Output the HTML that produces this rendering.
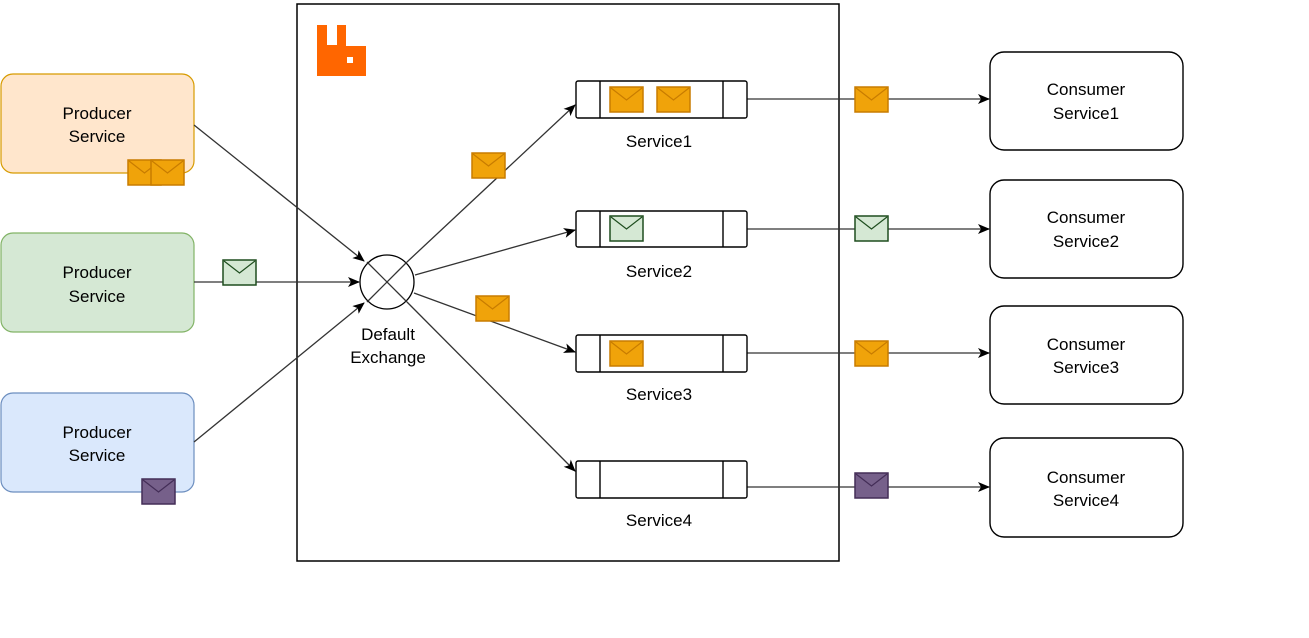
<!DOCTYPE html>
<html><head><meta charset="utf-8"><style>
html,body{margin:0;padding:0;background:#fff;}
svg{display:block;}
text{font-family:"Liberation Sans",sans-serif;font-size:17px;fill:#000;}
</style></head><body>
<svg width="1309" height="638" viewBox="0 0 1309 638" xmlns="http://www.w3.org/2000/svg">
<defs>
<marker id="ar" markerWidth="12" markerHeight="10" refX="11" refY="5" orient="auto" markerUnits="userSpaceOnUse">
<path d="M0,0 L12,5 L0,10 L3,5 Z" fill="#000"/>
</marker>
<g id="env"><rect x="0" y="0" width="33" height="25" stroke-width="1.5"/><path d="M1,1 L16.5,13 L32,1" fill="none" stroke-width="1.2"/></g>
</defs>
<rect x="297" y="4" width="542" height="557" fill="none" stroke="#000" stroke-width="1.5"/>
<path d="M317,25 h10 v20 h10 v-20 h9 v21 h20 v30 h-49 z" fill="#ff6600"/>
<rect x="347" y="57" width="6" height="6" fill="#fff"/>
<rect x="1" y="74" width="193" height="99" rx="12" fill="#ffe6cc" stroke="#d79b00" stroke-width="1.2"/>
<text x="97" y="119" text-anchor="middle">Producer</text><text x="97" y="142" text-anchor="middle">Service</text>
<rect x="1" y="233" width="193" height="99" rx="12" fill="#d5e8d4" stroke="#82b366" stroke-width="1.2"/>
<text x="97" y="278" text-anchor="middle">Producer</text><text x="97" y="302" text-anchor="middle">Service</text>
<rect x="1" y="393" width="193" height="99" rx="12" fill="#dae8fc" stroke="#6c8ebf" stroke-width="1.2"/>
<text x="97" y="438" text-anchor="middle">Producer</text><text x="97" y="461" text-anchor="middle">Service</text>
<g stroke="#333" stroke-width="1.3" fill="none">
<line x1="194" y1="125" x2="364" y2="261" marker-end="url(#ar)"/>
<line x1="194" y1="282" x2="359" y2="282" marker-end="url(#ar)"/>
<line x1="194" y1="442" x2="364" y2="303" marker-end="url(#ar)"/>
<line x1="407" y1="262" x2="575" y2="105" marker-end="url(#ar)"/>
<line x1="415" y1="275" x2="575" y2="230" marker-end="url(#ar)"/>
<line x1="414" y1="293" x2="575" y2="352" marker-end="url(#ar)"/>
<line x1="407" y1="302" x2="575" y2="471" marker-end="url(#ar)"/>
<line x1="747" y1="99" x2="989" y2="99" marker-end="url(#ar)"/>
<line x1="747" y1="229" x2="989" y2="229" marker-end="url(#ar)"/>
<line x1="747" y1="353" x2="989" y2="353" marker-end="url(#ar)"/>
<line x1="747" y1="487" x2="989" y2="487" marker-end="url(#ar)"/>
</g>
<circle cx="387" cy="282" r="27" fill="none" stroke="#000" stroke-width="1.3"/>
<line x1="367" y1="262" x2="407" y2="302" stroke="#333" stroke-width="1.3"/>
<line x1="367" y1="302" x2="407" y2="262" stroke="#333" stroke-width="1.3"/>
<text x="388" y="340" text-anchor="middle">Default</text>
<text x="388" y="363" text-anchor="middle">Exchange</text>
<g fill="#fff" stroke="#000" stroke-width="1.4">
<rect x="576" y="81" width="171" height="37" rx="2"/><line x1="600" y1="81" x2="600" y2="118"/><line x1="723" y1="81" x2="723" y2="118"/>
<rect x="576" y="211" width="171" height="36" rx="2"/><line x1="600" y1="211" x2="600" y2="247"/><line x1="723" y1="211" x2="723" y2="247"/>
<rect x="576" y="335" width="171" height="37" rx="2"/><line x1="600" y1="335" x2="600" y2="372"/><line x1="723" y1="335" x2="723" y2="372"/>
<rect x="576" y="461" width="171" height="37" rx="2"/><line x1="600" y1="461" x2="600" y2="498"/><line x1="723" y1="461" x2="723" y2="498"/>
</g>
<text x="659" y="147" text-anchor="middle">Service1</text>
<text x="659" y="277" text-anchor="middle">Service2</text>
<text x="659" y="400" text-anchor="middle">Service3</text>
<text x="659" y="526" text-anchor="middle">Service4</text>
<g fill="#fff" stroke="#000" stroke-width="1.4">
<rect x="990" y="52" width="193" height="98" rx="14"/>
<rect x="990" y="180" width="193" height="98" rx="14"/>
<rect x="990" y="306" width="193" height="98" rx="14"/>
<rect x="990" y="438" width="193" height="99" rx="14"/>
</g>
<text x="1086" y="95" text-anchor="middle">Consumer</text><text x="1086" y="119" text-anchor="middle">Service1</text>
<text x="1086" y="223" text-anchor="middle">Consumer</text><text x="1086" y="247" text-anchor="middle">Service2</text>
<text x="1086" y="350" text-anchor="middle">Consumer</text><text x="1086" y="373" text-anchor="middle">Service3</text>
<text x="1086" y="483" text-anchor="middle">Consumer</text><text x="1086" y="506" text-anchor="middle">Service4</text>
<g fill="#f0a30a" stroke="#c87c00">
<use href="#env" x="128" y="160"/><use href="#env" x="151" y="160"/>
<use href="#env" x="472" y="153"/><use href="#env" x="476" y="296"/>
<use href="#env" x="610" y="87"/><use href="#env" x="657" y="87"/>
<use href="#env" x="610" y="341"/>
<use href="#env" x="855" y="87"/><use href="#env" x="855" y="341"/>
</g>
<g fill="#d5e8d4" stroke="#1e4d1e">
<use href="#env" x="223" y="260"/><use href="#env" x="610" y="216"/><use href="#env" x="855" y="216"/>
</g>
<g fill="#76608a" stroke="#432d57">
<use href="#env" x="142" y="479"/><use href="#env" x="855" y="473"/>
</g>
</svg>
</body></html>
